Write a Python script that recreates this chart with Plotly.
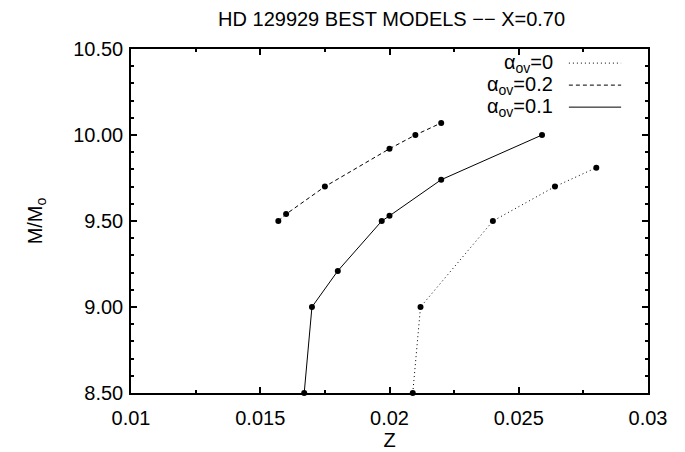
import plotly.graph_objects as go

# Data
z_ov0 = [0.0209, 0.0212, 0.0240, 0.0264, 0.0280]
m_ov0 = [8.50, 9.00, 9.50, 9.70, 9.81]

z_ov02 = [0.0157, 0.0160, 0.0175, 0.0200, 0.0210, 0.0220]
m_ov02 = [9.50, 9.54, 9.70, 9.92, 10.00, 10.07]

z_ov01 = [0.0167, 0.0170, 0.0180, 0.0197, 0.0200, 0.0220, 0.0259]
m_ov01 = [8.50, 9.00, 9.21, 9.50, 9.53, 9.74, 10.00]

x_ticks = [0.01, 0.015, 0.02, 0.025, 0.03]
x_ticktext = ["0.01", "0.015", "0.02", "0.025", "0.03"]
y_ticks = [8.5, 9.0, 9.5, 10.0, 10.5]
y_ticktext = ["8.50", "9.00", "9.50", "10.00", "10.50"]

legend_labels = ["α<sub>ov</sub>=0", "α<sub>ov</sub>=0.2", "α<sub>ov</sub>=0.1"]

FONT = "Liberation Sans, Arial, sans-serif"
FS = 20
DOT = "1px,3px"
DASH = "4px,3px"

fig = go.Figure()
series = [(z_ov0, m_ov0, DOT), (z_ov02, m_ov02, DASH), (z_ov01, m_ov01, "solid")]
for zs, ms, d in series:
    fig.add_trace(go.Scatter(
        x=zs, y=ms, mode="lines+markers",
        line=dict(color="black", width=1, dash=d),
        marker=dict(color="black", size=6),
        cliponaxis=False, showlegend=False,
    ))

# manual legend (gnuplot style: text then sample line)
row_y = [0.959, 0.895, 0.831]
for lab, yy, (_, _, d) in zip(legend_labels, row_y, series):
    fig.add_annotation(x=0.82, y=yy, xref="paper", yref="paper",
                       text=lab, showarrow=False, xanchor="right", yanchor="middle",
                       height=21, valign="middle",
                       font=dict(family=FONT, size=FS, color="black"))
    fig.add_shape(type="line", xref="paper", yref="paper",
                  x0=0.847, x1=0.948, y0=yy, y1=yy,
                  line=dict(color="black", width=1, dash=d))

axis_common = dict(
    showline=True, linecolor="black", linewidth=1.5, mirror="ticks",
    ticks="inside", ticklen=6, tickcolor="black", tickwidth=1.5,
    showgrid=False, zeroline=False,
    tickfont=dict(family=FONT, size=FS, color="black"),
)

fig.update_xaxes(range=[0.01, 0.03], tickvals=x_ticks, ticktext=x_ticktext,
                 minor=dict(ticks="inside", ticklen=3, dtick=0.0025, tickcolor="black"),
                 title=dict(text="Z", font=dict(family=FONT, size=FS, color="black"), standoff=5),
                 ticklabelstandoff=6,
                 **axis_common)
fig.update_yaxes(range=[8.5, 10.5], tickvals=y_ticks, ticktext=y_ticktext,
                 minor=dict(ticks="inside", ticklen=3, dtick=0.1, tickcolor="black"),
                 title=dict(text="M/M<sub>o</sub>", font=dict(family=FONT, size=FS, color="black"), standoff=25),
                 ticklabelstandoff=2,
                 **axis_common)

fig.update_layout(
    width=685, height=452,
    margin=dict(l=123, r=45, t=41, b=67, autoexpand=False),
    plot_bgcolor="white", paper_bgcolor="white",
    title=dict(text="HD 129929 BEST MODELS \u2212\u2212 X=0.70", x=0.56, xanchor="center",
               y=0.975, yanchor="middle",
               font=dict(family=FONT, size=FS, color="black")),
)

fig.write_html("out.html")
